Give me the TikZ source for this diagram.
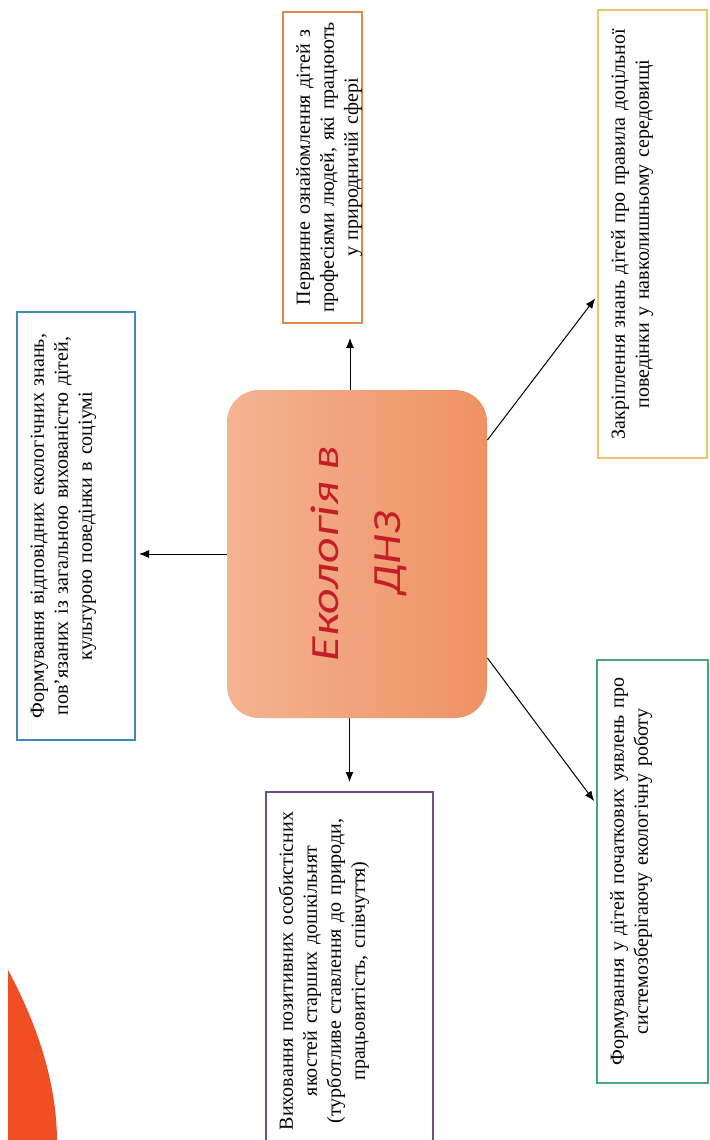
\documentclass[tikz,border=0pt]{standalone}
\usepackage{fontspec}
\setmainfont{Liberation Serif}
\newfontfamily\titlefont{Carlito}
\usetikzlibrary{arrows.meta,positioning}
\definecolor{aimblue}{HTML}{3A8DB8}
\definecolor{aimorange}{HTML}{DF8A4E}
\definecolor{aimyellow}{HTML}{EBC96A}
\definecolor{aimpurple}{HTML}{6F4F93}
\definecolor{aimgreen}{HTML}{45A77A}
\definecolor{ecoleft}{HTML}{F4B393}
\definecolor{ecoright}{HTML}{EE9262}
\definecolor{ecored}{HTML}{C41E28}
\definecolor{blob}{HTML}{F04E23}
\newcommand{\turned}[1]{\rotatebox{90}{\begin{tabular}{@{}c@{}}#1\end{tabular}}}
\tikzset{
    aimbox/.style n args={3}{draw=#1, line width=1pt, minimum width=#2, minimum height=#3,
        text width=#2-10pt, inner sep=5pt, align=left, font=\fontsize{10}{12}\selectfont},
    ecobox/.style={left color=ecoleft, right color=ecoright, rounded corners=16pt,
        minimum width=130pt, minimum height=164pt, text=ecored,
        font=\titlefont\itshape\fontsize{20}{31}\selectfont},
    toaim/.style={-{Latex[length=5pt,width=4pt]}, line width=0.5pt, shorten >=1.5pt}
}

\begin{document}
\begin{tikzpicture}[x=0.5pt,y=-0.5pt]
            \useasboundingbox (0,0) rectangle (710,1140);
            \fill[blob] (8,1142) -- (8,970) .. controls (35,1020) and (57,1080) .. (57,1142) -- cycle;
            \node[ecobox] (centre) at (357,554)
                {\turned{\scalebox{1.25}[1]{Екологія в}\\\scalebox{1.2}[1]{ДНЗ}}};
            \node[aimbox={aimblue}{59pt}{214pt}] (blue) at (76,526)
                {\turned{Формування відповідних екологічних знань,\\пов’язаних із загальною вихованістю дітей,\\культурою поведінки в соціумі}};
            \node[aimbox={aimorange}{39.5pt}{155.5pt}] (orange) at (322.5,167.5)
                {\turned{Первинне ознайомлення дітей з\\професіями людей, які працюють\\у природничій сфері}};
            \node[aimbox={aimyellow}{54.5pt}{224pt}] (yellow) at (652.5,234)
                {\turned{Закріплення знань дітей про правила доцільної\\поведінки у навколишньому середовищі}};
            \node[aimbox={aimpurple}{83.5pt}{179pt}] (purple) at (349.5,971)
                {\turned{Виховання позитивних особистісних\\якостей старших дошкільнят\\(турботливе ставлення до природи,\\працьовитість, співчуття)}};
            \node[aimbox={aimgreen}{55.5pt}{211.5pt}] (green) at (652.5,871.5)
                {\turned{Формування у дітей початкових уявлень про\\системозберігаючу екологічну роботу}};
            \draw[toaim] (centre.west) -- (centre.west -| blue.east);
            \draw[toaim, shorten >=7pt] ([xshift=-3.5pt]centre.north) -- ([xshift=-3.5pt]centre.north |- orange.south);
            \draw[toaim, shorten >=4.5pt] (centre.south -| purple.north) -- (purple.north);
            \draw[toaim] ([yshift=57pt]centre.east) -- ([yshift=-31pt]yellow.west);
            \draw[toaim] ([yshift=-52pt]centre.east) -- ([yshift=34pt]green.west);
\end{tikzpicture}
\end{document}
